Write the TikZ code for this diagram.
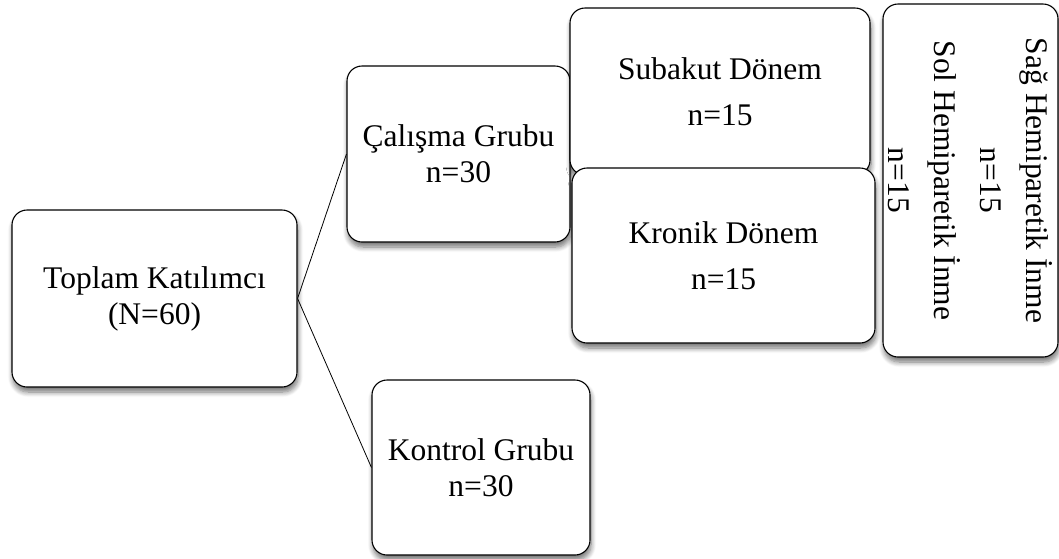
\documentclass[tikz,border=0pt]{standalone}
\usepackage{fontspec}
\setmainfont{Liberation Serif}
\usetikzlibrary{shadows.blur}

\begin{document}
\begin{tikzpicture}[x=1pt, y=-1pt,
  box/.style={draw, rounded corners=15pt, fill=white, line width=1.1pt, align=center, inner sep=0pt,
    blur shadow={shadow xshift=1pt, shadow yshift=-5pt, shadow blur radius=5pt, shadow blur steps=8, shadow opacity=55}},
  tight/.style={font=\fontsize{31.5}{36}\selectfont},
  loose/.style={font=\fontsize{31.5}{46}\selectfont}]
\useasboundingbox (0,0) rectangle (1059,558);
\node [box, tight, minimum width=285pt, minimum height=177pt] (toplam) at (154.5,298.5) {Toplam Katılımcı\\(N=60)};
\node [box, tight, minimum width=223pt, minimum height=176pt] (calisma) at (458.5,154) {Çalışma Grubu\\n=30};
\node [box, tight, minimum width=218pt, minimum height=175pt] (kontrol) at (481,467.5) {Kontrol Grubu\\n=30};
\node [box, loose, minimum width=300pt, minimum height=167pt] (subakut) at (720,91.5) {Subakut Dönem\\n=15};
\node [box, loose, minimum width=303pt, minimum height=175pt] (kronik) at (723.5,255.5) {Kronik Dönem\\n=15};
\node [box, loose, rotate=-90, minimum width=353pt, minimum height=175pt] (hemi) at (970.5,180.5) {Sağ Hemiparetik İnme\\n=15\\Sol Hemiparetik İnme\\n=15};
\draw [line width=0.8pt] (toplam.east) -- (calisma.west);
\draw [line width=0.8pt] (toplam.east) -- (kontrol.west);
\end{tikzpicture}
\end{document}
